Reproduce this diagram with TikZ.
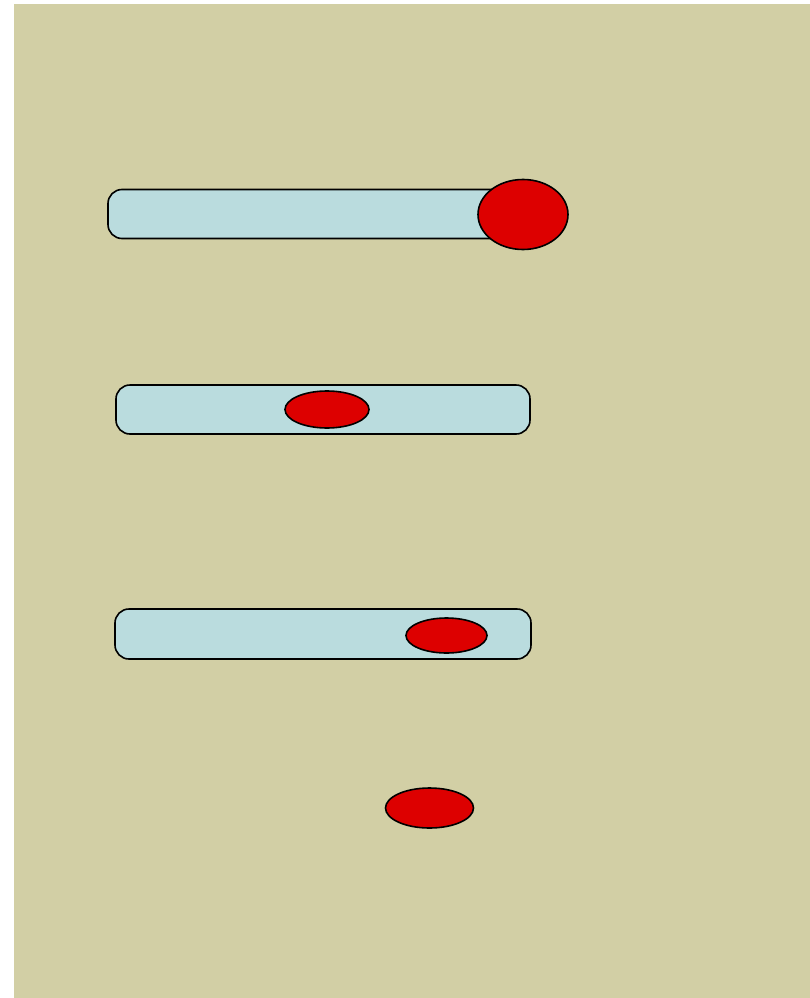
\documentclass[tikz,border=0pt]{standalone}
\usetikzlibrary{shapes.geometric}
\definecolor{bgtan}{RGB}{210,207,165}
\definecolor{barblue}{RGB}{186,220,222}
\definecolor{ballred}{RGB}{221,0,0}
\tikzset{
  bar/.style={draw=black, fill=barblue, line width=1.6pt, rounded corners=14pt, inner sep=0pt, outer sep=0pt},
  ball/.style={ellipse, draw=black, fill=ballred, line width=1.6pt, inner sep=0pt, outer sep=0pt}
}
\begin{document}
\begin{tikzpicture}[x=1pt,y=-1pt]
\useasboundingbox (0,0) rectangle (810,998);
\fill[white] (0,0) rectangle (810,998);
\fill[bgtan] (14,4) rectangle (810,998);
% bar 1 with big ball
\node[bar, minimum width=414pt, minimum height=49pt] (bar1) at (315,214) {};
\node[ball, minimum width=90pt, minimum height=70pt] (ball1) at (523,214.5) {};
% bar 2
\node[bar, minimum width=414pt, minimum height=49pt] (bar2) at (323,409.5) {};
\node[ball, minimum width=84pt, minimum height=37pt] (ball2) at (327,409.5) {};
% bar 3
\node[bar, minimum width=416pt, minimum height=50pt] (bar3) at (323,634) {};
\node[ball, minimum width=81pt, minimum height=35pt] (ball3) at (446.5,635.5) {};
% lone ball
\node[ball, minimum width=88pt, minimum height=40pt] (ball4) at (429.5,808) {};
\end{tikzpicture}
\end{document}
